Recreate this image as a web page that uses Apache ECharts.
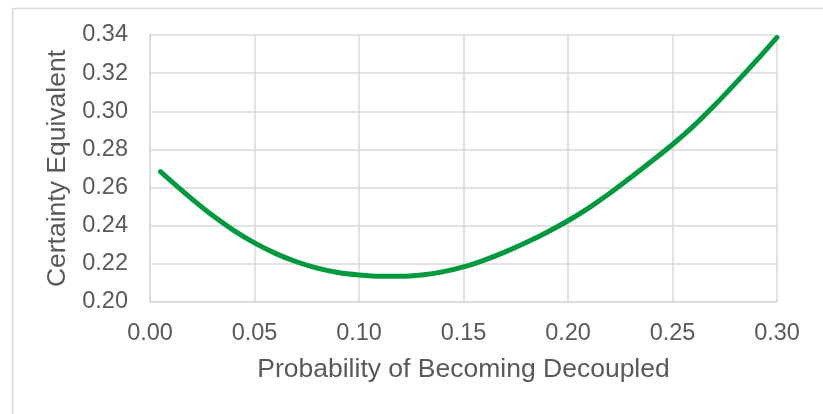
<!DOCTYPE html>
<html>
<head>
<meta charset="utf-8">
<script src="https://cdn.jsdelivr.net/npm/echarts@6/dist/echarts.min.js"></script>
<style>
html,body{margin:0;padding:0;background:#fff;}
#chart{width:823px;height:414px;}
</style>
</head>
<body>
<div id="chart"></div>
<script>
const probabilities = [0.005, 0.01, 0.02, 0.03, 0.04, 0.05, 0.06, 0.07, 0.08, 0.09, 0.10,
  0.11, 0.12, 0.13, 0.14, 0.15, 0.16, 0.17, 0.18, 0.19, 0.20,
  0.21, 0.22, 0.23, 0.24, 0.25, 0.26, 0.27, 0.28, 0.29, 0.30];
const certaintyEquivalents = [0.2683, 0.2635, 0.2541, 0.2453, 0.2376, 0.2310, 0.2255, 0.2211, 0.2178, 0.2155, 0.2142,
  0.2135, 0.2135, 0.2142, 0.2158, 0.2184, 0.2220, 0.2263, 0.2312, 0.2366, 0.2426,
  0.2494, 0.2570, 0.2653, 0.2738, 0.2826, 0.2922, 0.3030, 0.3145, 0.3264, 0.3388];
const xTitle = 'Probability of Becoming Decoupled';
const yTitle = 'Certainty Equivalent';

const textColor = '#595959';
const gridColor = '#D9D9D9';
const fontFam = 'Arial, "Liberation Sans", sans-serif';

const chart = echarts.init(document.getElementById('chart'), null, {renderer: 'canvas'});
chart.setOption({
  animation: false,
  backgroundColor: '#ffffff',
  graphic: [{
    type: 'rect',
    left: 10, top: 6,
    shape: {width: 900, height: 500},
    style: {fill: 'none', stroke: gridColor, lineWidth: 1.5},
    silent: true
  }],
  grid: {left: 150, right: 46, top: 35, bottom: 112, containLabel: false},
  xAxis: {
    type: 'value', min: 0, max: 0.30, interval: 0.05,
    name: xTitle, nameLocation: 'middle', nameGap: 54,
    nameTextStyle: {color: textColor, fontSize: 26.5, fontFamily: fontFam},
    axisLine: {show: true, lineStyle: {color: gridColor, width: 1.5}},
    axisTick: {show: false},
    axisLabel: {color: textColor, fontSize: 23.5, fontFamily: fontFam, margin: 20,
      formatter: v => v.toFixed(2)},
    splitLine: {show: true, lineStyle: {color: gridColor, width: 1.5}}
  },
  yAxis: {
    type: 'value', min: 0.20, max: 0.34, interval: 0.02,
    name: yTitle, nameLocation: 'middle', nameGap: 78,
    nameTextStyle: {color: textColor, fontSize: 26.5, fontFamily: fontFam},
    axisLine: {show: true, lineStyle: {color: gridColor, width: 1.5}},
    axisTick: {show: false},
    axisLabel: {color: textColor, fontSize: 23.5, fontFamily: fontFam, margin: 22,
      formatter: v => v.toFixed(2)},
    splitLine: {show: true, lineStyle: {color: gridColor, width: 1.5}}
  },
  series: [{
    type: 'line',
    data: probabilities.map((x, i) => [x, certaintyEquivalents[i]]),
    smooth: 0.3,
    symbol: 'none',
    lineStyle: {color: '#00993D', width: 5, cap: 'round'}
  }]
});
</script>
</body>
</html>
